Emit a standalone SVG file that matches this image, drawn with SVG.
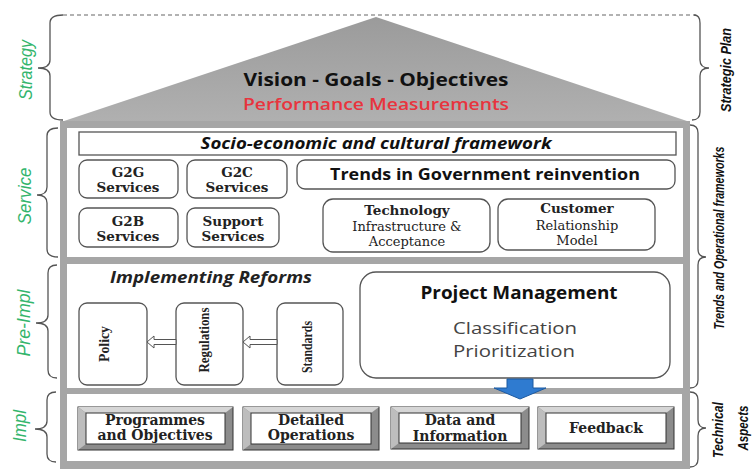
<svg xmlns="http://www.w3.org/2000/svg" width="752" height="473" viewBox="0 0 752 473">
<style>
.bx{fill:#fff;stroke:#555;stroke-width:1.3}
.sv{font-family:"DejaVu Serif","Liberation Serif",serif;font-weight:bold;font-size:13.5px;fill:#222;text-anchor:middle}
.svr{font-family:"DejaVu Serif","Liberation Serif",serif;font-size:13px;fill:#222;text-anchor:middle}
.ss{font-family:"Open Sans","Liberation Sans",sans-serif;font-weight:bold;fill:#111;text-anchor:middle}
.lab{font-family:"Liberation Sans","DejaVu Sans",sans-serif;font-style:italic;fill:#33b56c;text-anchor:middle;font-size:18px}
.rl{font-family:"Liberation Sans","DejaVu Sans",sans-serif;font-style:italic;font-weight:bold;fill:#111;text-anchor:middle;font-size:14px}
.br{fill:none;stroke:#555;stroke-width:1.3}
.vt{font-family:"Liberation Serif","DejaVu Serif",serif;font-weight:bold;font-size:15.5px;fill:#222;text-anchor:middle}
.ha{fill:#fff;stroke:#555;stroke-width:1}
.ib{font-family:"DejaVu Serif","Liberation Serif",serif;font-weight:bold;font-size:14px;fill:#222;text-anchor:middle}
</style>
<defs>
<linearGradient id="tri" x1="0" y1="0" x2="0" y2="1">
<stop offset="0" stop-color="#9b9b9b"/>
<stop offset="1" stop-color="#b0b0b0"/>
</linearGradient>
</defs>
<rect width="752" height="473" fill="#fff"/>

<g id="roof">
<line x1="63" y1="15" x2="696" y2="15" stroke="#666" stroke-width="1.2" stroke-dasharray="4,3"/>
<polygon points="376,17 61,122 690,122" fill="url(#tri)"/>
<text class="ss" x="376" y="86" font-size="18" textLength="265" lengthAdjust="spacingAndGlyphs">Vision - Goals - Objectives</text>
<text x="376" y="110" font-family="Open Sans, Liberation Sans, sans-serif" font-size="17" font-weight="600" fill="#e8343e" text-anchor="middle" textLength="266" lengthAdjust="spacingAndGlyphs">Performance Measurements</text>
</g>

<g id="frame">
<rect x="60" y="121" width="630" height="348" fill="#a6a6a6"/>
<rect x="67" y="128" width="616" height="129" fill="#fff"/>
<rect x="67" y="264" width="616" height="124" fill="#fff"/>
<rect x="67" y="394" width="615" height="67" fill="#fff"/>
</g>

<g id="socio">
<rect class="bx" x="79" y="132" width="597" height="23"/>
<text x="376" y="149" font-family="Open Sans, Liberation Sans, sans-serif" font-size="15.5" font-weight="bold" font-style="italic" fill="#111" text-anchor="middle" textLength="351" lengthAdjust="spacingAndGlyphs">Socio-economic and cultural framework</text>
</g>
<g id="g2g">
<rect class="bx" x="79" y="160" width="99" height="38" rx="8"/>
<text class="sv" x="128" y="177">G2G</text>
<text class="sv" x="128" y="192">Services</text>
</g>
<g id="g2c">
<rect class="bx" x="187" y="160" width="100" height="38" rx="8"/>
<text class="sv" x="237" y="177">G2C</text>
<text class="sv" x="237" y="192">Services</text>
</g>
<g id="trends">
<rect class="bx" x="297" y="160" width="378" height="29" rx="8"/>
<text class="ss" x="485" y="180" font-size="15.5" textLength="310" lengthAdjust="spacingAndGlyphs">Trends in Government reinvention</text>
</g>
<g id="g2b">
<rect class="bx" x="79" y="208" width="99" height="39" rx="8"/>
<text class="sv" x="128" y="226">G2B</text>
<text class="sv" x="128" y="241">Services</text>
</g>
<g id="support">
<rect class="bx" x="187" y="208" width="92" height="39" rx="8"/>
<text class="sv" x="233" y="226">Support</text>
<text class="sv" x="233" y="241">Services</text>
</g>
<g id="technology">
<rect class="bx" x="323" y="199" width="167" height="53" rx="10"/>
<text class="sv" x="407" y="215">Technology</text>
<text class="svr" x="407" y="231">Infrastructure &amp;</text>
<text class="svr" x="407" y="246">Acceptance</text>
</g>
<g id="customer">
<rect class="bx" x="498" y="199" width="157" height="51" rx="10"/>
<text class="sv" x="577" y="213">Customer</text>
<text class="svr" x="577" y="230">Relationship</text>
<text class="svr" x="577" y="245">Model</text>
</g>

<g id="reforms">
<text x="211" y="283" font-family="Open Sans, Liberation Sans, sans-serif" font-size="15.5" font-weight="bold" font-style="italic" fill="#222" text-anchor="middle" textLength="202" lengthAdjust="spacingAndGlyphs">Implementing Reforms</text>
</g>
<g id="policy">
<rect class="bx" x="79" y="303" width="68" height="82" rx="8"/>
<text class="vt" transform="translate(109,344) rotate(-90)" textLength="36" lengthAdjust="spacingAndGlyphs">Policy</text>
</g>
<g id="regulations">
<rect class="bx" x="176" y="303" width="67" height="82" rx="8"/>
<text class="vt" transform="translate(209,340) rotate(-90)" textLength="65" lengthAdjust="spacingAndGlyphs">Regulations</text>
</g>
<g id="standards">
<rect class="bx" x="277" y="303" width="66" height="82" rx="8"/>
<text class="vt" transform="translate(312,347) rotate(-90)" textLength="52" lengthAdjust="spacingAndGlyphs">Standards</text>
</g>
<g id="pm">
<rect class="bx" x="360" y="272" width="310" height="106" rx="16"/>
<text class="ss" x="519" y="299" font-size="17.5" textLength="197" lengthAdjust="spacingAndGlyphs">Project Management</text>
<text x="515" y="334" font-family="Open Sans, Liberation Sans, sans-serif" font-size="17" fill="#444" text-anchor="middle" textLength="124" lengthAdjust="spacingAndGlyphs">Classification</text>
<text x="514" y="357" font-family="Open Sans, Liberation Sans, sans-serif" font-size="17" fill="#444" text-anchor="middle" textLength="122" lengthAdjust="spacingAndGlyphs">Prioritization</text>
</g>

<g id="programmes">
<rect x="78" y="407" width="155" height="43" fill="#8c8c8c" stroke="#333"/>
<polygon points="78,407 233,407 225,413 86,413" fill="#d6d6d6"/>
<polygon points="78,407 86,413 86,444 78,450" fill="#bdbdbd"/>
<rect x="86" y="413" width="139" height="31" fill="#fff" stroke="#333"/>
<text class="ib" x="155" y="425">Programmes</text>
<text class="ib" x="155" y="440">and Objectives</text>
</g>
<g id="detailed">
<rect x="243" y="407" width="136" height="43" fill="#8c8c8c" stroke="#333"/>
<polygon points="243,407 379,407 371,413 251,413" fill="#d6d6d6"/>
<polygon points="243,407 251,413 251,444 243,450" fill="#bdbdbd"/>
<rect x="251" y="413" width="120" height="31" fill="#fff" stroke="#333"/>
<text class="ib" x="311" y="425">Detailed</text>
<text class="ib" x="311" y="440">Operations</text>
</g>
<g id="data">
<rect x="391" y="407" width="138" height="42" fill="#8c8c8c" stroke="#333"/>
<polygon points="391,407 529,407 521,413 399,413" fill="#d6d6d6"/>
<polygon points="391,407 399,413 399,443 391,449" fill="#bdbdbd"/>
<rect x="399" y="413" width="122" height="30" fill="#fff" stroke="#333"/>
<text class="ib" x="460" y="425">Data and</text>
<text class="ib" x="460" y="441">Information</text>
</g>
<g id="feedback">
<rect x="538" y="407" width="136" height="42" fill="#8c8c8c" stroke="#333"/>
<polygon points="538,407 674,407 666,413 546,413" fill="#d6d6d6"/>
<polygon points="538,407 546,413 546,443 538,449" fill="#bdbdbd"/>
<rect x="546" y="413" width="120" height="30" fill="#fff" stroke="#333"/>
<text class="ib" x="606" y="433">Feedback</text>
</g>

<g id="connectors">
<polygon class="ha" points="147,342 154,336 154,339.5 176,339.5 176,344.5 154,344.5 154,348"/>
<polygon class="ha" points="243,342 250,336 250,339.5 277,339.5 277,344.5 250,344.5 250,348"/>
<path d="M507,379 L533,379 L533,388 L546,388 L520,399 L494,388 L507,388 Z" fill="#2f7bd0" stroke="#1d5aa0" stroke-width="1"/>
</g>

<g id="braces">
<path class="br" d="M63,15 Q50,15 50,23 L50,60 Q50,68 38,68 Q50,68 50,76 L50,112 Q50,120 63,120"/>
<path class="br" d="M58,128 Q47,128 47,136 L47,187 Q47,195 37,195 Q47,195 47,203 L47,249 Q47,257 58,257"/>
<path class="br" d="M57,265 Q48,265 48,273 L48,315 Q48,323 36,323 Q48,323 48,331 L48,370 Q48,378 57,378"/>
<path class="br" d="M56,392 Q47,392 47,400 L47,421 Q47,429 35,429 Q47,429 47,437 L47,454 Q47,462 56,462"/>
<path class="br" d="M694,15 Q700,15 700,23 L700,60 Q700,68 709,68 Q700,68 700,76 L700,112 Q700,120 692,120"/>
<path class="br" d="M690,125 Q698,125 698,133 L698,249 Q698,257 706,257 Q698,257 698,265 L698,380 Q698,388 690,388"/>
<path class="br" d="M690,392 Q698,392 698,400 L698,420 Q698,428 706,428 Q698,428 698,436 L698,459 Q698,467 690,467"/>
</g>

<g id="labels">
<text class="lab" transform="translate(32,70) rotate(-90)" textLength="60" lengthAdjust="spacingAndGlyphs">Strategy</text>
<text class="lab" transform="translate(31,196) rotate(-90)" textLength="57" lengthAdjust="spacingAndGlyphs">Service</text>
<text class="lab" transform="translate(30,323) rotate(-90)" textLength="67" lengthAdjust="spacingAndGlyphs">Pre-Impl</text>
<text class="lab" transform="translate(26,426) rotate(-90)" textLength="32" lengthAdjust="spacingAndGlyphs">Impl</text>
<text class="rl" transform="translate(731,70) rotate(-90)" textLength="84" lengthAdjust="spacingAndGlyphs">Strategic Plan</text>
<text class="rl" transform="translate(724,238) rotate(-90)" textLength="183" lengthAdjust="spacingAndGlyphs">Trends and Operational frameworks</text>
<text class="rl" transform="translate(723,430) rotate(-90)" textLength="56" lengthAdjust="spacingAndGlyphs">Technical</text>
<text class="rl" transform="translate(748,428) rotate(-90)" textLength="45" lengthAdjust="spacingAndGlyphs">Aspects</text>
</g>
</svg>
